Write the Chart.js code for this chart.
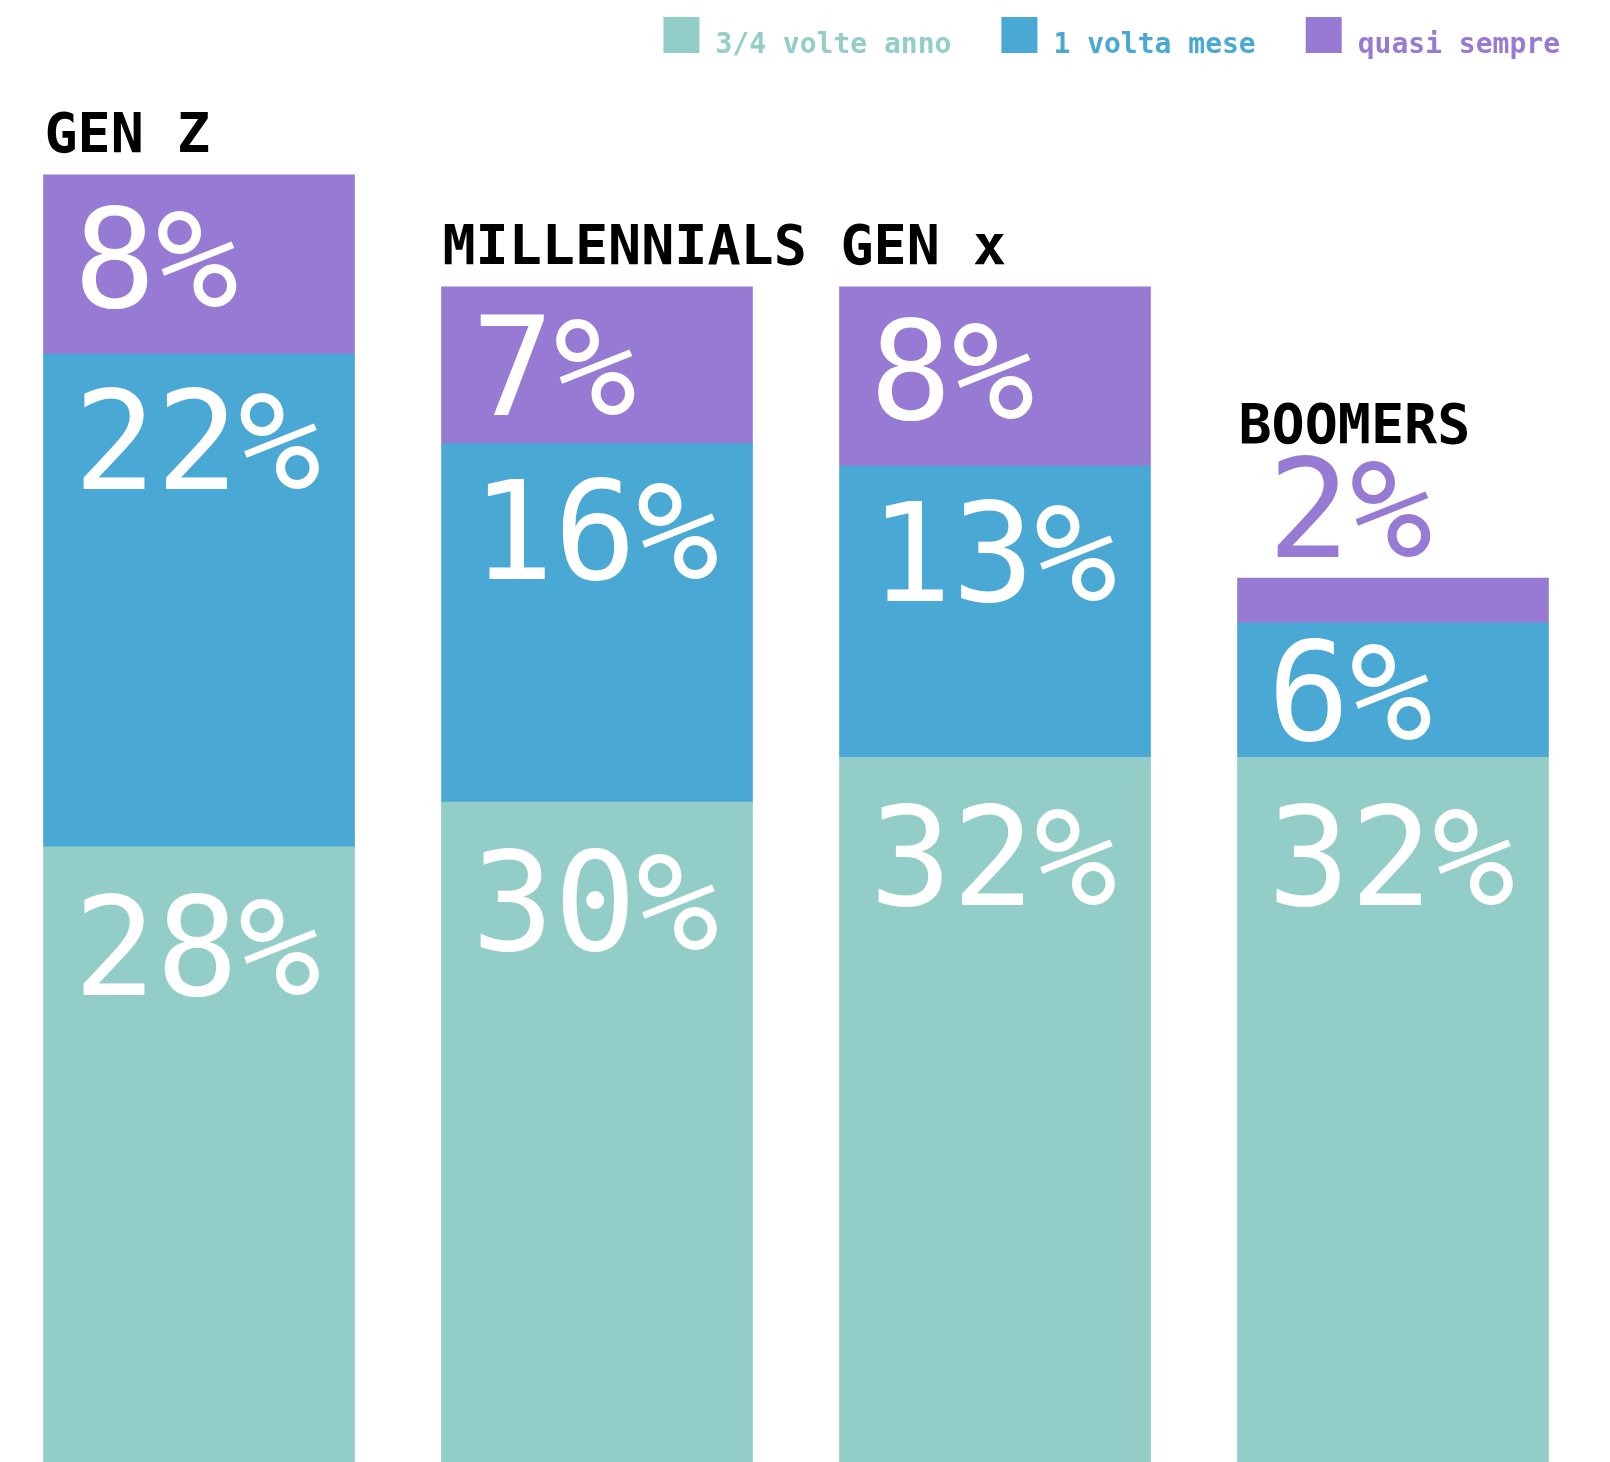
<!DOCTYPE html>
<html lang="it">
<head>
<meta charset="utf-8">
<title>Frequenza per generazione</title>
<script src="https://cdn.jsdelivr.net/npm/chart.js@4.4.1/dist/chart.umd.min.js"></script>
<style>
  html, body { margin: 0; padding: 0; background: #ffffff; overflow: hidden; }
  #grafico { display: block; }
</style>
</head>
<body>
<canvas id="grafico" width="1610" height="1462"></canvas>
<script>
// dati (percentuali)
const generazioni = ['GEN Z', 'MILLENNIALS', 'GEN x', 'BOOMERS'];
const nomiSerie = ['3/4 volte anno', '1 volta mese', 'quasi sempre'];
const treQuattroVolteAnno = [28, 30, 32, 32];
const unaVoltaMese = [22, 16, 13, 6];
const quasiSempre = [8, 7, 8, 2];

const FONT_MONO = '"DejaVu Sans Mono", "Liberation Mono", monospace';
const VALORE_SIZE = 137;
const ALTEZZA_CIFRE = Math.round(VALORE_SIZE * 0.729); // altezza delle cifre DejaVu

// etichette dentro le barre, titoli sopra e legenda in alto a destra
const etichettePlugin = {
    id: 'etichette',
    afterDatasetsDraw(chart) {
        const ctx = chart.ctx;
        const ultimo = chart.data.datasets.length - 1;
        const fuori = []; // barre con l'etichetta sopra

        ctx.save();
        ctx.textBaseline = 'alphabetic';
        ctx.textAlign = 'left';
        ctx.font = VALORE_SIZE + 'px ' + FONT_MONO;

        chart.data.datasets.forEach((ds, i) => {
            const meta = chart.getDatasetMeta(i);
            meta.data.forEach((bar, j) => {
                const p = bar.getProps(['x', 'y', 'base', 'width'], true);
                const sinistra = p.x - p.width / 2;
                const altezza = p.base - p.y;
                const testo = ds.data[j] + '%';

                if (altezza < ALTEZZA_CIFRE + 20) {
                    // segmento troppo basso: etichetta sopra la barra
                    ctx.fillStyle = ds.backgroundColor;
                    ctx.fillText(testo, sinistra + 30, p.y - 21);
                    if (i === ultimo) fuori[j] = p.y - 21 - ALTEZZA_CIFRE;
                } else {
                    const margine = Math.min(ds.margineEtichetta, (altezza - ALTEZZA_CIFRE) / 2);
                    ctx.fillStyle = '#ffffff';
                    ctx.fillText(testo, sinistra + 30, p.y + margine + ALTEZZA_CIFRE);
                }
            });
        });

        // titoli delle generazioni
        ctx.font = 'bold 55px ' + FONT_MONO;
        ctx.fillStyle = '#000000';
        chart.getDatasetMeta(ultimo).data.forEach((bar, j) => {
            const p = bar.getProps(['x', 'y', 'width'], true);
            const y = fuori[j] !== undefined ? fuori[j] - 14 : p.y - 23;
            ctx.fillText(chart.data.labels[j], p.x - p.width / 2 + 1, y);
        });

        // legenda, allineata a destra
        ctx.font = 'bold 28px ' + FONT_MONO;
        let destra = chart.width - 50;
        for (let i = ultimo; i >= 0; i--) {
            const ds = chart.data.datasets[i];
            const w = ctx.measureText(ds.label).width;
            const xTesto = destra - w;
            const xBox = xTesto - 16 - 36;
            ctx.fillStyle = ds.backgroundColor;
            ctx.fillRect(xBox, 17, 36, 36);
            ctx.fillText(ds.label, xTesto, 53);
            destra = xBox - 50;
        }
        ctx.restore();
    }
};

const ctx = document.getElementById('grafico').getContext('2d');
const grafico = new Chart(ctx, {
    type: 'bar',
    data: {
        labels: generazioni,
        datasets: [
            { label: nomiSerie[0], data: treQuattroVolteAnno, backgroundColor: '#92cdc8', margineEtichetta: 48 },
            { label: nomiSerie[1], data: unaVoltaMese, backgroundColor: '#49a8d4', margineEtichetta: 35 },
            { label: nomiSerie[2], data: quasiSempre, backgroundColor: '#967ad3', margineEtichetta: 32 }
        ]
    },
    options: {
        responsive: false,
        devicePixelRatio: 1,
        animation: false,
        barThickness: 311,
        layout: { padding: { left: 0, right: 18, top: 0, bottom: 0 } },
        plugins: {
            legend: { display: false },
            tooltip: { enabled: false }
        },
        scales: {
            x: { stacked: true, display: false },
            y: { stacked: true, display: false, min: 0.54, max: 65.8 }
        }
    },
    plugins: [etichettePlugin]
});
</script>
</body>
</html>
